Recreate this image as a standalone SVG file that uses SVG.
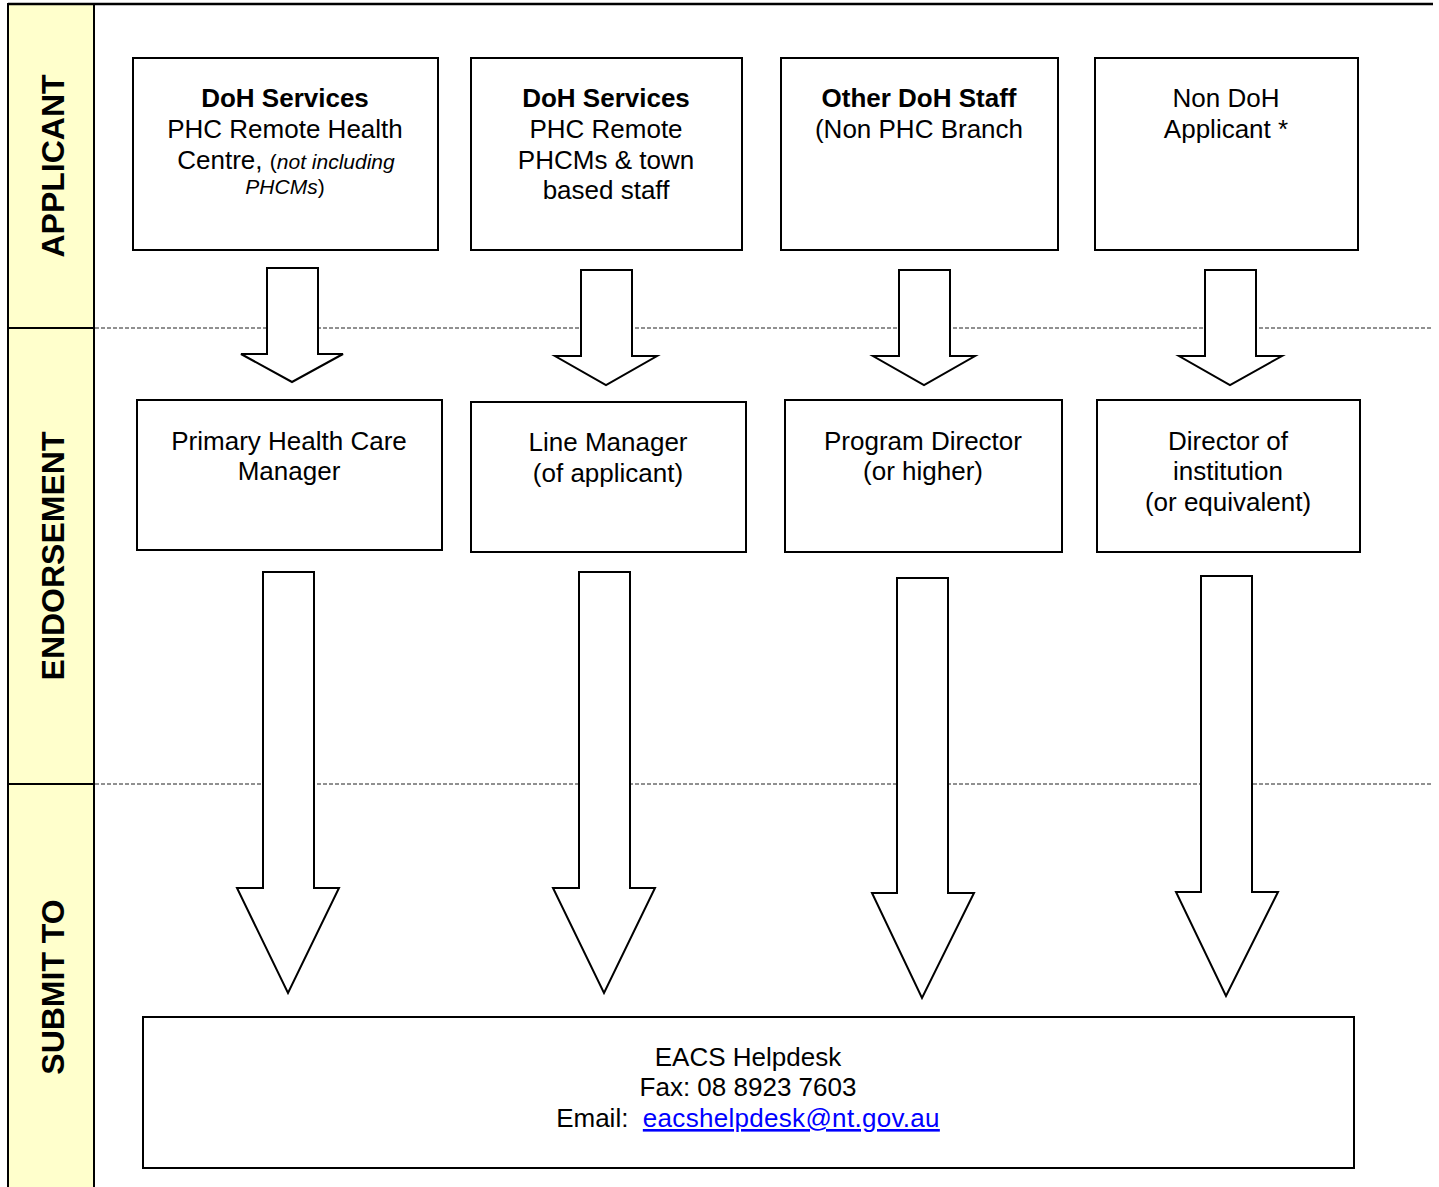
<svg xmlns="http://www.w3.org/2000/svg" width="1439" height="1187" viewBox="0 0 1439 1187">
<style>
.box{fill:#fff;stroke:#000;stroke-width:2}
.arrow{fill:#fff;stroke:#000;stroke-width:2;stroke-linejoin:miter}
.t{font-family:"Liberation Sans",Arial,sans-serif;font-size:26px;fill:#000;text-anchor:middle}
.b{font-weight:bold}
.sm{font-size:21px}
.it{font-style:italic}
.lane{font-family:"Liberation Sans",Arial,sans-serif;font-size:32px;font-weight:bold;fill:#000;text-anchor:middle}
.dash{stroke:#222;stroke-width:1;stroke-dasharray:4,2;fill:none}
.link{fill:#0000FF;text-decoration:underline}
</style>
<rect width="1439" height="1187" fill="#fff"/>
<g id="lanes">
<rect x="8" y="4" width="86" height="1190" fill="#FFFFCC" stroke="none"/>
<line x1="8" y1="4" x2="1433" y2="4" stroke="#000" stroke-width="2.5"/>
<line x1="8" y1="3" x2="8" y2="1187" stroke="#000" stroke-width="2"/>
<line x1="94" y1="3" x2="94" y2="1187" stroke="#000" stroke-width="2"/>
<line x1="8" y1="328" x2="94" y2="328" stroke="#000" stroke-width="2"/>
<line x1="8" y1="784" x2="94" y2="784" stroke="#000" stroke-width="2"/>
<line class="dash" x1="95" y1="328" x2="1433" y2="328"/>
<line class="dash" x1="95" y1="784" x2="1433" y2="784"/>
<text class="lane" transform="translate(64,166) rotate(-90)">APPLICANT</text>
<text class="lane" transform="translate(64,556) rotate(-90)">ENDORSEMENT</text>
<text class="lane" transform="translate(64,987) rotate(-90)">SUBMIT TO</text>
</g>
<g id="connectors">
<polygon class="arrow" points="267,268 318,268 318,354 343,354 292,382 241,354 267,354"/>
<polygon class="arrow" points="581,270 632,270 632,356 657,356 606,385 555,356 581,356"/>
<polygon class="arrow" points="899,270 950,270 950,356 975,356 924,385 873,356 899,356"/>
<polygon class="arrow" points="1205,270 1256,270 1256,356 1282,356 1230,385 1179,356 1205,356"/>
<polygon class="arrow" points="263,572 314,572 314,888 339,888 288,993 237,888 263,888"/>
<polygon class="arrow" points="579,572 630,572 630,888 655,888 604,993 553,888 579,888"/>
<polygon class="arrow" points="897,578 948,578 948,893 974,893 922,998 872,893 897,893"/>
<polygon class="arrow" points="1201,576 1252,576 1252,892 1278,892 1226,996 1176,892 1201,892"/>
</g>
<g id="applicant-doh-remote">
<rect class="box" x="133" y="58" width="305" height="192"/>
<text class="t b" x="285" y="107">DoH Services</text>
<text class="t" x="285" y="138">PHC Remote Health</text>
<text class="t" x="286" y="169">Centre, <tspan class="sm">(</tspan><tspan class="sm it">not including</tspan></text>
<text class="t sm" x="285" y="194"><tspan class="it">PHCMs</tspan>)</text>
</g>
<g id="applicant-doh-phcm">
<rect class="box" x="471" y="58" width="271" height="192"/>
<text class="t b" x="606" y="107">DoH Services</text>
<text class="t" x="606" y="138">PHC Remote</text>
<text class="t" x="606" y="169">PHCMs &amp; town</text>
<text class="t" x="606" y="199">based staff</text>
</g>
<g id="applicant-other">
<rect class="box" x="781" y="58" width="277" height="192"/>
<text class="t b" x="919" y="107">Other DoH Staff</text>
<text class="t" x="919" y="138">(Non PHC Branch</text>
</g>
<g id="applicant-non-doh">
<rect class="box" x="1095" y="58" width="263" height="192"/>
<text class="t" x="1226" y="107">Non DoH</text>
<text class="t" x="1226" y="138">Applicant *</text>
</g>
<g id="endorse-phcm">
<rect class="box" x="137" y="400" width="305" height="150"/>
<text class="t" x="289" y="450">Primary Health Care</text>
<text class="t" x="289" y="480">Manager</text>
</g>
<g id="endorse-line">
<rect class="box" x="471" y="402" width="275" height="150"/>
<text class="t" x="608" y="451">Line Manager</text>
<text class="t" x="608" y="482">(of applicant)</text>
</g>
<g id="endorse-program">
<rect class="box" x="785" y="400" width="277" height="152"/>
<text class="t" x="923" y="450">Program Director</text>
<text class="t" x="923" y="480">(or higher)</text>
</g>
<g id="endorse-director">
<rect class="box" x="1097" y="400" width="263" height="152"/>
<text class="t" x="1228" y="450">Director of</text>
<text class="t" x="1228" y="480">institution</text>
<text class="t" x="1228" y="511">(or equivalent)</text>
</g>
<g id="submit-helpdesk">
<rect class="box" x="143" y="1017" width="1211" height="151"/>
<text class="t" x="748" y="1066">EACS Helpdesk</text>
<text class="t" x="748" y="1096">Fax: 08 8923 7603</text>
<text class="t" x="748" y="1127" xml:space="preserve">Email:  <tspan class="link" letter-spacing="0.3">eacshelpdesk@nt.gov.au</tspan></text>
</g>
</svg>
